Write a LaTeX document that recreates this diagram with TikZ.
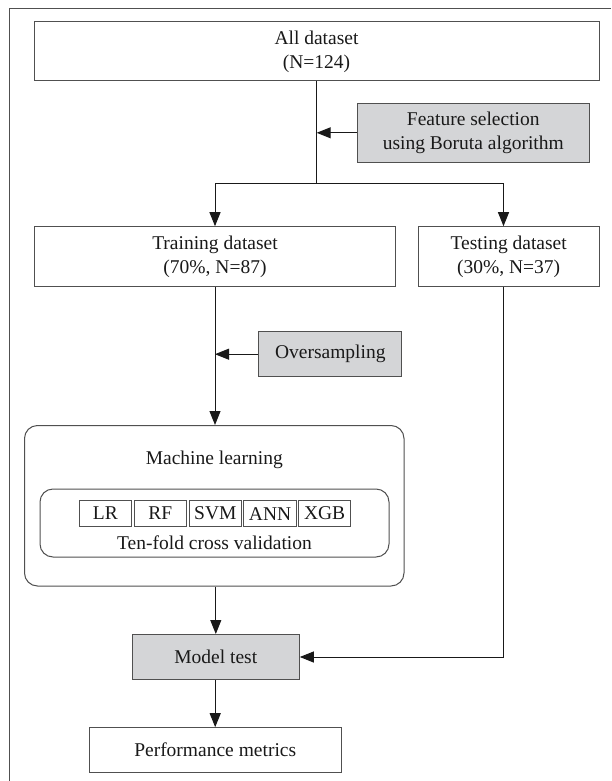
\documentclass[tikz,border=0pt]{standalone}
\usepackage{fontspec}
\setmainfont{Liberation Serif}
\usetikzlibrary{arrows.meta}
\definecolor{boxgray}{HTML}{D4D5D7}
\definecolor{edge}{HTML}{505050}
\tikzset{
  every node/.style={font=\fontsize{19.5}{24}\selectfont, text=black!90, inner sep=0pt, align=center},
  plainbox/.style={draw=edge, line width=1pt, fill=white},
  graybox/.style={draw=edge, line width=1pt, fill=boxgray},
  roundbox/.style={draw=edge, line width=1pt, rounded corners=13pt},
  algbox/.style={draw=edge, line width=0.8pt, minimum width=52.5pt, minimum height=26.2pt},
  conn/.style={draw=black!90, line width=1pt},
  arr/.style={conn, -{Triangle[length=14pt,width=11pt]}}
}
\begin{document}
\begin{tikzpicture}[x=1pt,y=-1pt]
\useasboundingbox (0,0) rectangle (611,781);
% outer frame (cut off at right and bottom)
\draw[draw=edge, line width=1pt] (9.3,781) -- (9.3,9) -- (611,9);

\node[plainbox, minimum width=565pt, minimum height=59pt] (all) at (316.5,51.5) {All dataset\\(N=124)};
\node[graybox, minimum width=232pt, minimum height=59.5pt] (feat) at (473.3,132.8) {Feature selection\\using Boruta algorithm};
\node[plainbox, minimum width=361.4pt, minimum height=60pt] (train) at (215,256.7) {Training dataset\\(70\%, N=87)};
\node[plainbox, minimum width=180.7pt, minimum height=60pt] (test) at (508.7,256.7) {Testing dataset\\(30\%, N=37)};
\node[graybox, minimum width=142.7pt, minimum height=45pt] (overs) at (330.3,354.2) {Oversampling};

\node[roundbox, minimum width=379.5pt, minimum height=160.5pt] (ml) at (214.25,505.75) {};
\node (mltext) at (214.25,460) {Machine learning};
\node[roundbox, minimum width=349pt, minimum height=68pt] (inner) at (214.5,523) {};
\node[algbox] (lr) at (105.3,513.6) {LR};
\node[algbox] (rf) at (160.2,513.6) {RF};
\node[algbox] (svm) at (215.3,513.6) {SVM};
\node[algbox] (ann) at (270.1,513.6) {ANN};
\node[algbox] (xgb) at (324.6,513.6) {XGB};
\node (cv) at (214.5,543) {Ten-fold cross validation};

\node[graybox, minimum width=167pt, minimum height=45pt] (model) at (215.8,657) {Model test};
\node[plainbox, minimum width=251.7pt, minimum height=45pt] (perf) at (215.2,750.2) {Performance metrics};

% connectors
\coordinate (split) at (316.7,183.3);
\coordinate (fsin) at (316.7,132.8);
\coordinate (sl) at (215,183.3);
\coordinate (sr) at (503.5,183.3);
\coordinate (osin) at (215,354.2);
\coordinate (tcorner) at (503.5,657);

\draw[conn] (all.south -| split) -- (split);
\draw[arr] (feat.west) -- (fsin);
\draw[conn] (sl) -- (sr);
\draw[arr] (sl) -- (sl |- train.north);
\draw[arr] (sr) -- (sr |- test.north);
\draw[arr] (train.south) -- (ml.north -| train.south);
\draw[arr] (overs.west) -- (osin);
\draw[arr] (ml.south -| model.north) -- (model.north);
\draw[arr] (test.south -| tcorner) -- (tcorner) -- (model.east);
\draw[arr] (model.south -| perf.north) -- (perf.north);
\end{tikzpicture}
\end{document}
